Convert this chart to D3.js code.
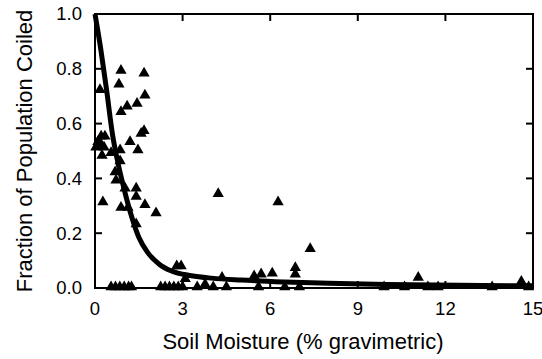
<!DOCTYPE html>
<html>
<head>
    <title>Soil Moisture vs Coiling</title>
    <script src="https://d3js.org/d3.v7.min.js"></script>
    <style>
        body { margin: 0; background: #fff; }
        svg { display: block; font-family: "Liberation Sans", Arial, sans-serif; }
        .frame { fill: none; stroke: #000; stroke-width: 2; }
        .tick-mark { stroke: #000; stroke-width: 2; }
        .fit { fill: none; stroke: #000; stroke-width: 5; }
        .tick-label { font-size: 18.5px; fill: #000; }
        .title { font-size: 22px; fill: #000; }
    </style>
</head>
<body>
<svg width="542" height="359"></svg>
<script>
    // observed points (soil moisture %, fraction coiled)
    var moisture = [0.89, 1.68, 0.17, 0.82, 1.71, 1.44, 1.10, 0.89, 1.58, 1.68, 1.20,
        0.21, 0.34, 0.10, 0.21, 0.31, 0.03, 1.47, 0.86, 0.24, 0.55, 0.86, 0.69, 0.72,
        1.03, 1.41, 1.41, 0.27, 0.89, 1.13, 1.71, 2.09, 1.41, 4.22, 6.27, 7.37, 2.80,
        2.95, 3.09, 4.35, 3.77, 5.45, 5.69, 6.07, 6.86, 6.86, 11.07, 14.6,
        0.55, 0.70, 0.85, 1.00, 1.15, 1.25, 2.25, 2.40, 2.55, 2.70, 2.85, 3.00,
        3.50, 4.05, 4.50, 5.60, 6.50, 7.00, 9.90, 10.6, 11.4, 11.75, 13.6, 14.85];
    var coiled = [0.79, 0.78, 0.72, 0.74, 0.70, 0.67, 0.66, 0.64, 0.56, 0.57, 0.53,
        0.55, 0.55, 0.53, 0.52, 0.51, 0.51, 0.50, 0.50, 0.48, 0.49, 0.46, 0.42, 0.39,
        0.36, 0.36, 0.33, 0.31, 0.29, 0.29, 0.30, 0.27, 0.23, 0.34, 0.31, 0.14, 0.077,
        0.077, 0.03, 0.035, 0.01, 0.04, 0.047, 0.05, 0.07, 0.047, 0.035, 0.02,
        0, 0, 0, 0, 0, 0, 0, 0, 0, 0, 0, 0,
        0, 0, 0, 0, 0, 0, 0, 0, 0, 0, 0, 0];

    // fitted curve
    var fitX = [0, 0.2, 0.4, 0.6, 0.8, 1.0, 1.2, 1.5, 1.8, 2.2, 2.6, 3.3, 4, 5, 6.5, 8, 10, 12.5, 15];
    var fitY = [1.0, 0.87, 0.72, 0.56, 0.45, 0.36, 0.28, 0.185, 0.13, 0.087, 0.063, 0.045, 0.036, 0.029, 0.022, 0.017, 0.013, 0.010, 0.008];

    var xTicks = [0, 3, 6, 9, 12, 15];
    var yTicks = [0, 0.2, 0.4, 0.6, 0.8, 1.0];

    var svg = d3.select("svg"),
        margin = {top: 14, right: 9, bottom: 71, left: 95},
        width = 542 - margin.left - margin.right,
        height = 359 - margin.top - margin.bottom,
        g = svg.append("g").attr("transform", "translate(" + margin.left + "," + margin.top + ")");

    var x = d3.scaleLinear().domain([0, 15]).range([0, width]),
        y = d3.scaleLinear().domain([0, 1]).range([height, 0]);

    var tl = 7; // inward tick length

    // inward ticks on all four sides
    g.selectAll(".tx-b").data(xTicks).enter().append("line")
        .attr("class", "tick-mark")
        .attr("x1", function(d) { return x(d); }).attr("x2", function(d) { return x(d); })
        .attr("y1", height).attr("y2", height - tl);
    g.selectAll(".tx-t").data(xTicks).enter().append("line")
        .attr("class", "tick-mark")
        .attr("x1", function(d) { return x(d); }).attr("x2", function(d) { return x(d); })
        .attr("y1", 0).attr("y2", tl);
    g.selectAll(".ty-l").data(yTicks).enter().append("line")
        .attr("class", "tick-mark")
        .attr("x1", 0).attr("x2", tl)
        .attr("y1", function(d) { return y(d); }).attr("y2", function(d) { return y(d); });
    g.selectAll(".ty-r").data(yTicks).enter().append("line")
        .attr("class", "tick-mark")
        .attr("x1", width).attr("x2", width - tl)
        .attr("y1", function(d) { return y(d); }).attr("y2", function(d) { return y(d); });

    g.append("rect")
        .attr("class", "frame")
        .attr("x", 0).attr("y", 0)
        .attr("width", width).attr("height", height);

    // tick labels
    g.selectAll(".xl").data(xTicks).enter().append("text")
        .attr("class", "tick-label")
        .attr("x", function(d) { return x(d); })
        .attr("y", height + 27)
        .attr("text-anchor", "middle")
        .text(function(d) { return d; });
    g.selectAll(".yl").data(yTicks).enter().append("text")
        .attr("class", "tick-label")
        .attr("x", -13)
        .attr("y", function(d) { return y(d); })
        .attr("dy", "0.35em")
        .attr("text-anchor", "end")
        .text(function(d) { return d3.format(".1f")(d); });

    // fitted line
    var fit = fitX.map(function(v, i) { return [v, fitY[i]]; });
    var line = d3.line()
        .x(function(d) { return x(d[0]); })
        .y(function(d) { return y(d[1]); })
        .curve(d3.curveMonotoneX);
    g.append("path")
        .datum(fit)
        .attr("class", "fit")
        .attr("d", line);

    // points
    var tri = d3.symbol().type(d3.symbolTriangle).size(55);
    g.selectAll(".pt")
        .data(moisture.map(function(v, i) { return [v, coiled[i]]; }))
        .enter().append("path")
        .attr("class", "pt")
        .attr("d", tri)
        .attr("fill", "#000")
        .attr("transform", function(d) { return "translate(" + x(d[0]) + "," + (y(d[1]) - 1) + ")"; });

    // axis titles
    svg.append("text")
        .attr("class", "title")
        .attr("x", margin.left + width / 2 - 11)
        .attr("y", 349)
        .attr("text-anchor", "middle")
        .text("Soil Moisture (% gravimetric)");
    svg.append("text")
        .attr("class", "title")
        .attr("transform", "translate(32," + (margin.top + height / 2) + ") rotate(-90)")
        .attr("text-anchor", "middle")
        .text("Fraction of Population Coiled");
</script>
</body>
</html>
